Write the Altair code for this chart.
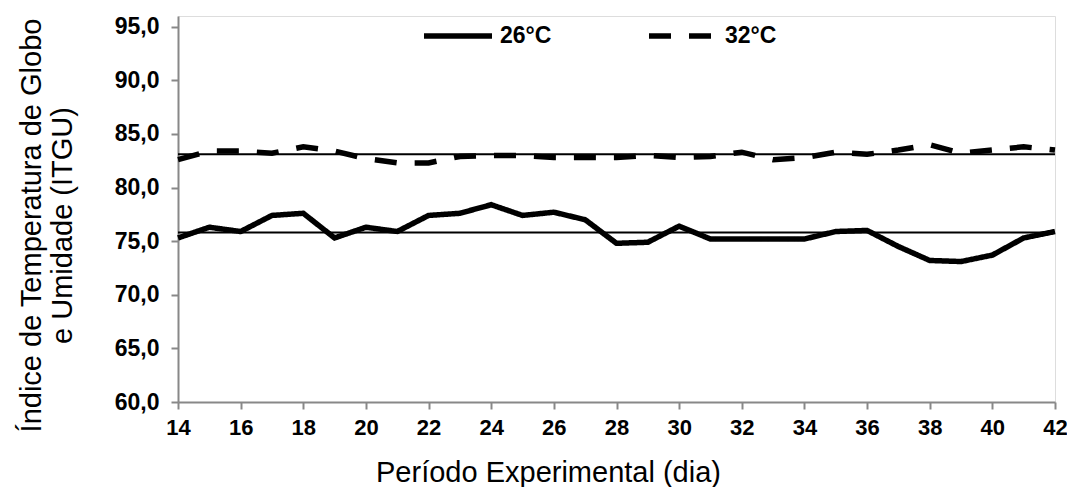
import altair as alt
import pandas as pd

days = list(range(14, 43))
t26 = [75.3, 76.3, 75.9, 77.4, 77.6, 75.3, 76.3, 75.9, 77.4, 77.6,
       78.4, 77.4, 77.7, 77.0, 74.8, 74.9, 76.4, 75.2, 75.2, 75.2,
       75.2, 75.9, 76.0, 74.5, 73.2, 73.1, 73.7, 75.3, 75.9]
t32 = [82.6, 83.4, 83.4, 83.2, 83.8, 83.4, 82.7, 82.3, 82.3, 82.9,
       83.0, 83.0, 82.8, 82.8, 82.8, 83.0, 82.8, 82.9, 83.3, 82.6,
       82.8, 83.3, 83.1, 83.5, 84.0, 83.2, 83.5, 83.8, 83.5]
series_names = ["26°C", "32°C"]
ref_values = [83.1, 75.8]
x_ticks = list(range(14, 43, 2))
y_ticks = [60, 65, 70, 75, 80, 85, 90, 95]

df = pd.DataFrame({
    "dia": days * 2,
    "itgu": t26 + t32,
    "serie": [series_names[0]] * len(days) + [series_names[1]] * len(days),
})
refs = pd.DataFrame({"ref": ref_values})

FONT = "Liberation Sans"
AXIS_COLOR = "#888888"

x = alt.X(
    "dia:Q",
    scale=alt.Scale(domain=[14, 42], nice=False, zero=False),
    axis=alt.Axis(
        values=x_ticks, format="d", grid=False, labelFlush=False,
        title="Período Experimental (dia)",
        titleFont=FONT, titleFontSize=29, titleFontWeight="normal", titleColor="black",
        titleX=370, titleY=79, titleAlign="center", titleBaseline="alphabetic",
        labelFont=FONT, labelFontSize=22, labelFontWeight="bold", labelColor="black",
        labelPadding=8, tickSize=7, tickColor=AXIS_COLOR, tickWidth=2,
        domainColor=AXIS_COLOR, domainWidth=2,
    ),
)
y = alt.Y(
    "itgu:Q",
    scale=alt.Scale(domain=[60, 96], nice=False, zero=False),
    axis=alt.Axis(
        values=y_ticks, grid=False, labelFlush=False,
        labelExpr="replace(format(datum.value, '.1f'), '.', ',')",
        title=["Índice de Temperatura de Globo", "e Umidade (ITGU)"],
        titleFont=FONT, titleFontSize=29, titleFontWeight="normal", titleColor="black",
        titleLineHeight=31, titleX=-147, titleY=209, titleAlign="center",
        titleBaseline="middle", titleAngle=270,
        labelFont=FONT, labelFontSize=23, labelFontWeight="bold", labelColor="black",
        labelPadding=12, tickSize=7, tickColor=AXIS_COLOR, tickWidth=2,
        domainColor=AXIS_COLOR, domainWidth=2,
    ),
)

lines = alt.Chart(df).mark_line(color="black", strokeWidth=5.5).encode(
    x=x,
    y=y,
    strokeDash=alt.StrokeDash(
        "serie:N",
        scale=alt.Scale(domain=series_names, range=[[1, 0], [22, 18]]),
        legend=alt.Legend(
            title=None, orient="none", direction="horizontal",
            legendX=243, legendY=-17, padding=0,
            symbolType="stroke", symbolSize=4624, symbolStrokeWidth=5.5,
            symbolStrokeColor="black",
            labelFont=FONT, labelFontSize=23, labelFontWeight="bold",
            labelColor="black", labelOffset=5, columnPadding=86,
        ),
    ),
)

ref_rules = alt.Chart(refs).mark_rule(color="black", strokeWidth=2).encode(
    y=alt.Y("ref:Q", scale=alt.Scale(domain=[60, 96], nice=False, zero=False))
)

chart = alt.layer(ref_rules, lines).properties(
    width=877,
    height=386,
    autosize=alt.AutoSizeParams(type="none"),
    padding={"left": 170, "top": 8, "right": 12, "bottom": 85},
).configure_view(stroke=None).configure(background="white")

chart.save("out.html", embed_options={"renderer": "svg", "actions": False})
